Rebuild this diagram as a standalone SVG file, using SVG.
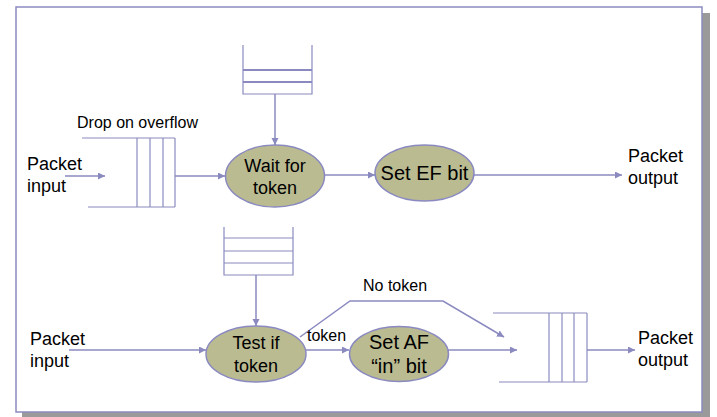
<svg xmlns="http://www.w3.org/2000/svg" width="717" height="417" viewBox="0 0 717 417">
<style>
.ln{stroke:#8a8ac0;stroke-width:1.5;fill:none}
.thin{stroke:#8a8ac0;stroke-width:1.2;fill:none}
.ell{fill:#bbbb91;stroke:#8a8ac0;stroke-width:1.5}
text{font-family:"Liberation Sans",Arial,sans-serif;fill:#000}
.t18{font-size:18px}
.t20{font-size:20px}
.t16{font-size:16px}
</style>
<defs>
<marker id="ah" markerUnits="userSpaceOnUse" markerWidth="8" markerHeight="8" refX="7" refY="3.5" orient="auto">
<path d="M0,0 L7,3.5 L0,7 z" fill="#8a8ac0"/>
</marker>
</defs>
<rect x="0" y="0" width="717" height="417" fill="#ffffff"/>
<g id="frame">
<rect x="22" y="13" width="688" height="404" fill="#9a9a9a"/>
<rect x="16" y="7" width="686" height="405" fill="#ffffff" stroke="#8a8ac0" stroke-width="1.5"/>
</g>
<g id="connectors">
<line class="ln" x1="65" y1="176" x2="105" y2="176" marker-end="url(#ah)"/>
<line class="ln" x1="175" y1="176" x2="225" y2="176" marker-end="url(#ah)"/>
<line class="ln" x1="275" y1="94" x2="275" y2="145" marker-end="url(#ah)"/>
<line class="ln" x1="324" y1="175" x2="375" y2="175" marker-end="url(#ah)"/>
<line class="ln" x1="474" y1="175" x2="622" y2="175" marker-end="url(#ah)"/>
<line class="ln" x1="69" y1="350" x2="206" y2="350" marker-end="url(#ah)"/>
<line class="ln" x1="256" y1="275" x2="256" y2="326" marker-end="url(#ah)"/>
<line class="ln" x1="306" y1="350" x2="349" y2="350" marker-end="url(#ah)"/>
<polyline class="ln" points="300,337 350,301 443,301 504,337" marker-end="url(#ah)"/>
<line class="ln" x1="448" y1="350" x2="517" y2="350" marker-end="url(#ah)"/>
<line class="ln" x1="587" y1="350" x2="635" y2="350" marker-end="url(#ah)"/>
</g>
<g id="input-top">
<text class="t18" x="27" y="170">Packet</text>
<text class="t18" x="27" y="192">input</text>
</g>
<g id="queue-top">
<text class="t16" x="77" y="128">Drop on overflow</text>
<line class="thin" x1="82" y1="138" x2="175" y2="138"/>
<line class="thin" x1="88" y1="207" x2="175" y2="207"/>
<line class="thin" x1="137" y1="138" x2="137" y2="207"/>
<line class="thin" x1="150" y1="138" x2="150" y2="207"/>
<line class="thin" x1="163" y1="138" x2="163" y2="207"/>
<line class="thin" x1="175" y1="138" x2="175" y2="207"/>
</g>
<g id="bucket-top">
<polyline class="thin" points="243,45 243,94 312,94 312,45"/>
<line stroke="#8a8ac0" stroke-width="2" x1="243" y1="70" x2="312" y2="70"/>
<line stroke="#8a8ac0" stroke-width="2" x1="243" y1="82" x2="312" y2="82"/>
</g>
<g id="wait-for-token">
<ellipse class="ell" cx="275" cy="176" rx="49.5" ry="31"/>
<text class="t18" x="275" y="172" text-anchor="middle">Wait for</text>
<text class="t18" x="275" y="194" text-anchor="middle">token</text>
</g>
<g id="set-ef-bit">
<ellipse class="ell" cx="424.5" cy="173" rx="49.5" ry="28"/>
<text class="t20" x="424.5" y="180" text-anchor="middle">Set EF bit</text>
</g>
<g id="output-top">
<text class="t18" x="628" y="162">Packet</text>
<text class="t18" x="628" y="184">output</text>
</g>
<g id="input-bottom">
<text class="t18" x="30" y="345">Packet</text>
<text class="t18" x="30" y="367">input</text>
</g>
<g id="bucket-bottom">
<polyline class="thin" points="224,227 224,275 293,275 293,227"/>
<line class="thin" x1="224" y1="238" x2="293" y2="238"/>
<line class="thin" x1="224" y1="251" x2="293" y2="251"/>
<line class="thin" x1="224" y1="263" x2="293" y2="263"/>
</g>
<g id="test-if-token">
<ellipse class="ell" cx="256" cy="354" rx="50" ry="28"/>
<text class="t18" x="256" y="349" text-anchor="middle">Test if</text>
<text class="t18" x="256" y="372" text-anchor="middle">token</text>
</g>
<g id="labels-bottom">
<text class="t16" x="307" y="341">token</text>
<text class="t16" x="363" y="291">No token</text>
</g>
<g id="set-af-in-bit">
<ellipse class="ell" cx="399" cy="354" rx="49.5" ry="27.5"/>
<text class="t20" x="399" y="349" text-anchor="middle">Set AF</text>
<text class="t20" x="399" y="373" text-anchor="middle">“in” bit</text>
</g>
<g id="queue-bottom">
<line class="thin" x1="493" y1="313" x2="587" y2="313"/>
<line class="thin" x1="499" y1="382" x2="587" y2="382"/>
<line class="thin" x1="549" y1="313" x2="549" y2="382"/>
<line class="thin" x1="562" y1="313" x2="562" y2="382"/>
<line class="thin" x1="574" y1="313" x2="574" y2="382"/>
<line class="thin" x1="587" y1="313" x2="587" y2="382"/>
</g>
<g id="output-bottom">
<text class="t18" x="638" y="344">Packet</text>
<text class="t18" x="638" y="366">output</text>
</g>
</svg>
